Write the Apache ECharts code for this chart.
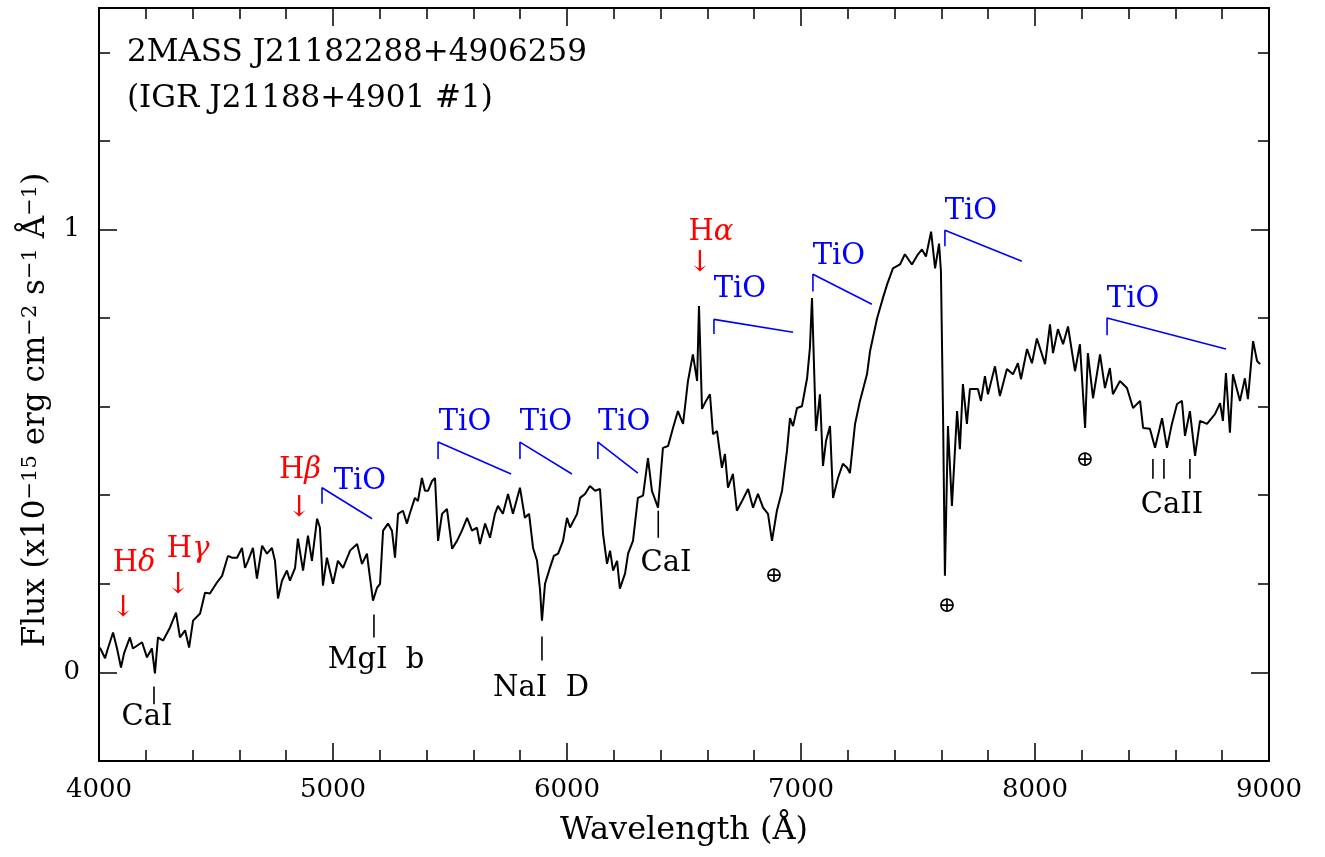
<!DOCTYPE html>
<html>
<head>
<meta charset="utf-8">
<script src="https://cdn.jsdelivr.net/npm/echarts@6/dist/echarts.min.js"></script>
<style>
  html, body { margin: 0; padding: 0; background: #fff; }
  #chart { width: 1325px; height: 857px; }
</style>
</head>
<body>
<div id="chart"></div>
<script>
// spectrum (wavelength in A, flux in 1e-15 erg/cm2/s/A)
const wavelength = [
  4004, 4026, 4038, 4060, 4077, 4094, 4107, 4132, 4145, 4184, 4205, 4226, 4239, 4252, 4274, 4303,
  4329, 4346, 4368, 4385, 4402, 4432, 4453, 4474, 4504, 4526, 4551, 4568, 4590, 4611, 4624, 4637,
  4658, 4675, 4697, 4718, 4739, 4752, 4765, 4782, 4803, 4816, 4838, 4850, 4872, 4893, 4910, 4932,
  4944, 4957, 4974, 5000, 5021, 5043, 5073, 5103, 5124, 5145, 5158, 5171, 5188, 5201, 5214, 5235,
  5252, 5265, 5278, 5299, 5316, 5329, 5350, 5363, 5380, 5393, 5406, 5423, 5436, 5449, 5466, 5487,
  5509, 5530, 5551, 5573, 5594, 5615, 5628, 5650, 5671, 5692, 5705, 5726, 5748, 5769, 5799, 5820,
  5838, 5855, 5872, 5885, 5893, 5906, 5927, 5944, 5962, 5983, 6000, 6013, 6043, 6056, 6077, 6098,
  6120, 6141, 6154, 6171, 6184, 6197, 6214, 6226, 6248, 6261, 6282, 6303, 6325, 6346, 6363, 6389,
  6410, 6432, 6453, 6474, 6496, 6517, 6538, 6556, 6564, 6577, 6594, 6611, 6624, 6641, 6662, 6675,
  6688, 6709, 6726, 6748, 6774, 6795, 6816, 6838, 6859, 6876, 6897, 6919, 6940, 6953, 6966, 6983,
  7004, 7026, 7038, 7047, 7064, 7081, 7094, 7107, 7124, 7137, 7158, 7179, 7197, 7209, 7231, 7252,
  7282, 7295, 7325, 7350, 7368, 7393, 7423, 7444, 7474, 7500, 7517, 7534, 7556, 7573, 7590, 7598,
  7607, 7615, 7628, 7645, 7667, 7679, 7692, 7709, 7722, 7756, 7769, 7786, 7799, 7829, 7850, 7880,
  7906, 7927, 7940, 7966, 7987, 8008, 8043, 8064, 8077, 8098, 8120, 8141, 8171, 8192, 8214, 8226,
  8248, 8278, 8299, 8320, 8333, 8363, 8393, 8419, 8449, 8462, 8491, 8513, 8543, 8564, 8585, 8607,
  8628, 8641, 8662, 8684, 8705, 8735, 8769, 8791, 8803, 8816, 8833, 8846, 8876, 8897, 8910, 8932,
  8949, 8962
];
const flux = [
  0.056, 0.032, 0.054, 0.090, 0.054, 0.011, 0.043, 0.079, 0.054, 0.068, 0.034, 0.054, -0.002, 0.079, 0.072, 0.101,
  0.135, 0.079, 0.095, 0.056, 0.117, 0.133, 0.180, 0.178, 0.203, 0.218, 0.263, 0.259, 0.259, 0.281, 0.236, 0.252,
  0.281, 0.212, 0.286, 0.268, 0.281, 0.252, 0.167, 0.207, 0.230, 0.207, 0.236, 0.302, 0.230, 0.309, 0.252, 0.347,
  0.327, 0.196, 0.259, 0.200, 0.252, 0.236, 0.275, 0.290, 0.245, 0.268, 0.214, 0.162, 0.191, 0.200, 0.320, 0.336,
  0.320, 0.259, 0.358, 0.365, 0.336, 0.360, 0.394, 0.387, 0.439, 0.410, 0.410, 0.432, 0.439, 0.297, 0.358, 0.369,
  0.279, 0.297, 0.320, 0.349, 0.320, 0.327, 0.290, 0.336, 0.304, 0.358, 0.376, 0.358, 0.403, 0.358, 0.417, 0.349,
  0.358, 0.281, 0.252, 0.185, 0.117, 0.200, 0.236, 0.263, 0.268, 0.297, 0.349, 0.327, 0.358, 0.394, 0.403, 0.421,
  0.410, 0.414, 0.313, 0.245, 0.275, 0.230, 0.252, 0.189, 0.223, 0.268, 0.297, 0.394, 0.399, 0.484, 0.410, 0.372,
  0.507, 0.511, 0.552, 0.590, 0.561, 0.658, 0.718, 0.658, 0.827, 0.595, 0.613, 0.628, 0.538, 0.545, 0.462, 0.493,
  0.417, 0.448, 0.365, 0.387, 0.414, 0.372, 0.403, 0.372, 0.358, 0.297, 0.365, 0.410, 0.500, 0.574, 0.556, 0.597,
  0.601, 0.664, 0.732, 0.845, 0.545, 0.628, 0.466, 0.523, 0.556, 0.394, 0.439, 0.471, 0.462, 0.450, 0.561, 0.613,
  0.673, 0.725, 0.799, 0.845, 0.876, 0.912, 0.921, 0.944, 0.921, 0.944, 0.955, 0.939, 0.995, 0.912, 0.968, 0.905,
  0.583, 0.218, 0.556, 0.376, 0.590, 0.504, 0.651, 0.561, 0.640, 0.640, 0.613, 0.669, 0.628, 0.691, 0.624, 0.685,
  0.673, 0.698, 0.662, 0.730, 0.698, 0.754, 0.696, 0.786, 0.721, 0.775, 0.741, 0.781, 0.680, 0.741, 0.552, 0.721,
  0.619, 0.718, 0.642, 0.687, 0.628, 0.658, 0.642, 0.597, 0.613, 0.552, 0.550, 0.507, 0.574, 0.507, 0.561, 0.606,
  0.613, 0.534, 0.590, 0.489, 0.568, 0.561, 0.583, 0.608, 0.568, 0.676, 0.541, 0.673, 0.613, 0.664, 0.617, 0.748,
  0.703, 0.696
];

// TiO band heads: [x, y bottom, y top, x end, y end]
const tioBands = [
  [4953, 0.381, 0.417, 5167, 0.347],
  [5449, 0.482, 0.520, 5761, 0.448],
  [5799, 0.482, 0.520, 6021, 0.448],
  [6132, 0.482, 0.520, 6303, 0.450],
  [6628, 0.764, 0.797, 6966, 0.768],
  [7051, 0.860, 0.899, 7303, 0.831],
  [7615, 0.962, 0.998, 7944, 0.928],
  [8308, 0.761, 0.800, 8816, 0.730]
];
const tioLabels = [[5115, 0.432], [5564, 0.565], [5910, 0.565], [6244, 0.565], [6739, 0.865], [7162, 0.939], [7726, 1.041], [8419, 0.842]];

// absorption line marks: [x, y from, y to]
const lineTicks = [
  [4235, -0.032, -0.072],
  [5175, 0.131, 0.079],
  [5893, 0.081, 0.027],
  [6390, 0.365, 0.304],
  [8504, 0.482, 0.437],
  [8551, 0.482, 0.437],
  [8662, 0.482, 0.437]
];
const lineNames = [
  ['CaI', 4205, -0.101],
  ['MgI  b', 5184, 0.027],
  ['NaI  D', 5889, -0.036],
  ['CaI', 6423, 0.245],
  ['CaII', 8585, 0.376]
];
const telluric = [[6884, 0.218], [7624, 0.149], [8214, 0.480]];

// Balmer lines: [greek letter, label x, label y, arrow x, arrow y]
const balmer = [
  ['δ', 4150, 0.245, 4103, 0.144],
  ['γ', 4381, 0.277, 4338, 0.196],
  ['β', 4859, 0.455, 4855, 0.369],
  ['α', 6615, 0.993, 6568, 0.923]
];

const FONT = 'DejaVu Serif';
const chart = echarts.init(document.getElementById('chart'), null, { renderer: 'canvas' });

const xBase = {
  type: 'value', min: 4000, max: 9000, interval: 1000,
  axisLine: { show: true, onZero: false, lineStyle: { color: '#000', width: 2 } },
  axisTick: { show: true, inside: true, length: 18, lineStyle: { color: '#000', width: 1.5 } },
  minorTick: { show: true, splitNumber: 5, length: 11, lineStyle: { color: '#000', width: 1.5 } },
  splitLine: { show: false }
};
const yBase = {
  type: 'value', min: -0.2, max: 1.5, interval: 0.2,
  axisLine: { show: true, onZero: false, lineStyle: { color: '#000', width: 2 } },
  axisTick: { show: true, inside: true, length: 11, lineStyle: { color: '#000', width: 1.5 } },
  splitLine: { show: false }
};
const yMajor = {
  type: 'value', min: -0.2, max: 1.5,
  axisLine: { show: false },
  axisTick: { show: true, inside: true, length: 18, customValues: [0, 1], lineStyle: { color: '#000', width: 1.5 } },
  axisLabel: { show: false },
  splitLine: { show: false }
};

const series = [{
  type: 'line',
  data: wavelength.map((w, i) => [w, flux[i]]),
  showSymbol: false,
  lineStyle: { color: '#000', width: 2 },
  z: 3
}];

tioBands.forEach(b => series.push({
  type: 'line',
  data: [[b[0], b[1]], [b[0], b[2]], [b[3], b[4]]],
  showSymbol: false,
  lineStyle: { color: '#0000ff', width: 1.6 }
}));

lineTicks.forEach(t => series.push({
  type: 'line',
  data: [[t[0], t[1]], [t[0], t[2]]],
  showSymbol: false,
  lineStyle: { color: '#000', width: 1.6 }
}));

const textScatter = (data, color, extra) => ({
  type: 'scatter',
  symbolSize: 0,
  itemStyle: { opacity: 1 },
  data,
  label: Object.assign({
    show: true, position: 'inside', formatter: '{b}',
    color, fontFamily: FONT, fontSize: 29, opacity: 1
  }, extra || {}),
  z: 5
});

series.push(textScatter(tioLabels.map(p => ({ name: 'TiO', value: p })), '#0000ff'));
series.push(textScatter(lineNames.map(n => ({ name: n[0], value: [n[1], n[2]] })), '#000'));
series.push(textScatter(telluric.map(p => ({ name: '⊕', value: p })), '#000', { fontSize: 22 }));
series.push(textScatter(balmer.map(b => ({ name: 'H{g|' + b[0] + '}', value: [b[1], b[2]] })), '#ff0000', {
  rich: { g: { fontStyle: 'italic', fontFamily: FONT, fontSize: 29, color: '#ff0000' } }
}));
series.push(textScatter(balmer.map(b => ({ name: '↓', value: [b[3], b[4]] })), '#ff0000'));

chart.setOption({
  animation: false,
  backgroundColor: '#fff',
  title: {
    text: '2MASS J21182288+4906259\n(IGR J21188+4901 #1)',
    left: 122, top: 25,
    textStyle: { fontFamily: FONT, fontSize: 31, fontWeight: 'normal', color: '#000', lineHeight: 46 }
  },
  graphic: [{
    type: 'text',
    x: 36, y: 410,
    rotation: Math.PI / 2,
    style: {
      text: 'Flux (x10{s|−15} erg cm{s|−2} s{s|−1} Å{s|−1})',
      fontFamily: FONT, fontSize: 31, fill: '#000',
      align: 'center', verticalAlign: 'middle',
      rich: { s: { fontFamily: FONT, fontSize: 21, fill: '#000', verticalAlign: 'top' } }
    }
  }],
  grid: { left: 99, right: 56, top: 8, bottom: 96 },
  xAxis: [
    Object.assign({}, xBase, {
      position: 'bottom',
      name: 'Wavelength (Å)', nameLocation: 'middle', nameGap: 54,
      nameTextStyle: { fontFamily: FONT, fontSize: 32, color: '#000' },
      axisLabel: { fontFamily: FONT, fontSize: 26, color: '#000', margin: 16, formatter: v => String(v) }
    }),
    Object.assign({}, xBase, { position: 'top', axisLabel: { show: false } })
  ],
  yAxis: [
    Object.assign({}, yBase, {
      position: 'left',
      axisLabel: {
        fontFamily: FONT, fontSize: 26, color: '#000', margin: 19,
        formatter: v => (Math.abs(v) < 1e-6 ? '0' : Math.abs(v - 1) < 1e-6 ? '1' : '')
      }
    }),
    Object.assign({}, yBase, { position: 'right', axisLabel: { show: false } }),
    Object.assign({}, yMajor, { position: 'left' }),
    Object.assign({}, yMajor, { position: 'right' })
  ],
  series
});
</script>
</body>
</html>
